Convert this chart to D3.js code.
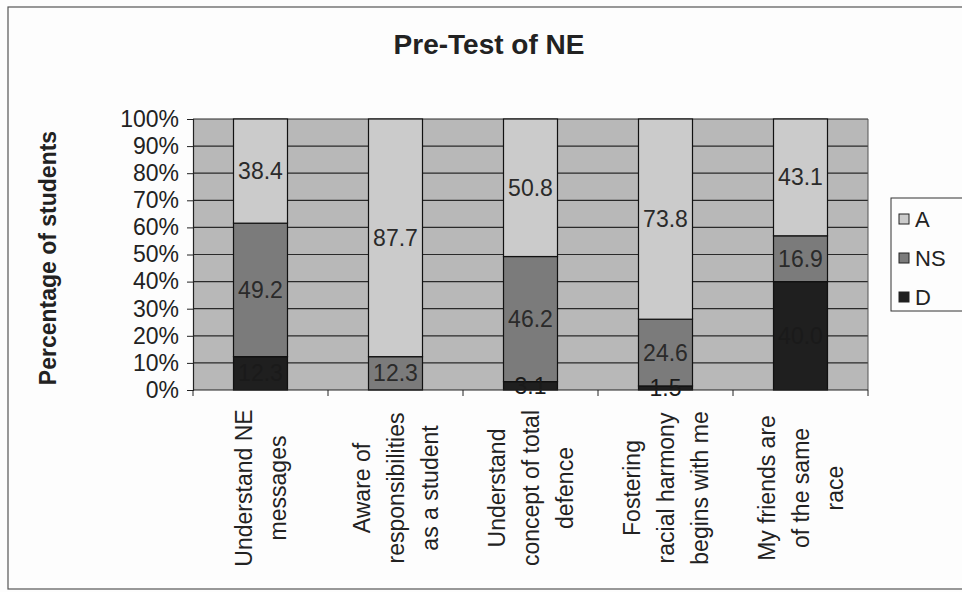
<!DOCTYPE html>
<html><head><meta charset="utf-8">
<script src="https://cdn.jsdelivr.net/npm/d3@7"></script>
<style>body{margin:0;background:#fdfdfd;} text{font-family:"Liberation Sans",Arial,sans-serif;}</style>
</head><body>
<svg id="c" width="962" height="592"></svg>
<script>
const categories = [
  ["Understand NE","messages"],
  ["Aware of","responsibilities","as a student"],
  ["Understand","concept of total","defence"],
  ["Fostering","racial harmony","begins with me"],
  ["My friends are","of the same","race"]
];
const seriesNames = ["D","NS","A"];
const valD  = [12.3, 0, 3.1, 1.5, 40.0];
const valNS = [49.2, 12.3, 46.2, 24.6, 16.9];
const valA  = [38.4, 87.7, 50.8, 73.8, 43.1];
const yTicks = [0,0.1,0.2,0.3,0.4,0.5,0.6,0.7,0.8,0.9,1];
const colors = {A:"#cbcbcb", NS:"#7b7b7b", D:"#1f1f1f"};

const svg = d3.select("#c");
// outer frame
svg.append("rect").attr("x",8).attr("y",7).attr("width",970).attr("height",582)
  .attr("fill","#fdfdfd").attr("stroke","#555").attr("stroke-width",1.2);

const m = {l:193, r:868, t:119, b:390};
const x = d3.scaleBand().domain(d3.range(categories.length)).range([m.l,m.r]).paddingInner(0.6).paddingOuter(0.3);
const y = d3.scaleLinear().domain([0,1]).range([m.b,m.t]);

// plot background
svg.append("rect").attr("x",m.l).attr("y",m.t).attr("width",m.r-m.l).attr("height",m.b-m.t).attr("fill","#b8b8b8");
// gridlines
svg.append("g").selectAll("line").data(yTicks.slice(1)).join("line")
  .attr("x1",m.l).attr("x2",m.r).attr("y1",d=>y(d)).attr("y2",d=>y(d)).attr("stroke","#2a2a2a").attr("stroke-width",1.2);
svg.append("line").attr("x1",m.r).attr("x2",m.r).attr("y1",m.t).attr("y2",m.b).attr("stroke","#555");

const rows = categories.map((c,i)=>({i, D:valD[i], NS:valNS[i], A:valA[i]}));
const stack = d3.stack().keys(seriesNames).offset(d3.stackOffsetExpand);
const layers = stack(rows);

const g = svg.append("g");
layers.forEach(layer=>{
  g.selectAll(null).data(layer).join("rect")
    .attr("x",d=>x(d.data.i)).attr("width",x.bandwidth())
    .attr("y",d=>y(d[1])).attr("height",d=>y(d[0])-y(d[1]))
    .attr("fill",colors[layer.key]).attr("stroke","#111").attr("stroke-width",1.2);
});
// labels
layers.forEach(layer=>{
  g.selectAll(null).data(layer.filter(d=>d.data[layer.key]>0)).join("text")
    .attr("x",d=>x(d.data.i)+x.bandwidth()/2)
    .attr("y",d=>y((d[0]+d[1])/2))
    .attr("text-anchor","middle").attr("dominant-baseline","central")
    .attr("font-size",23).attr("fill", layer.key==="D" ? "#1a1a1a" : "#2a2a2a")
    .text(d=>d.data[layer.key].toFixed(1));
});

// axes
const ya = svg.append("g").attr("transform",`translate(${m.l},0)`)
  .call(d3.axisLeft(y).tickValues(yTicks).tickFormat(d3.format(".0%")).tickSize(6).tickPadding(8));
ya.select(".domain").attr("stroke","#222").attr("stroke-width",1.2);
ya.selectAll("line").attr("stroke","#222");
ya.selectAll("text").attr("font-size",23).attr("fill","#222").style("font-family","Liberation Sans, Arial");

svg.append("line").attr("x1",m.l).attr("x2",m.r).attr("y1",m.b).attr("y2",m.b).attr("stroke","#222").attr("stroke-width",1.2);
const bounds = d3.range(categories.length+1).map(i=>m.l + i*(m.r-m.l)/categories.length);
svg.append("g").selectAll("line").data(bounds).join("line")
  .attr("x1",d=>d).attr("x2",d=>d).attr("y1",m.b).attr("y2",m.b+6).attr("stroke","#222");

// x labels
categories.forEach((lines,i)=>{
  const cx = x(i)+x.bandwidth()/2;
  const t = svg.append("g").attr("transform",`translate(${cx},488) rotate(-90)`);
  lines.forEach((ln,j)=>{
    t.append("text").attr("x",0).attr("y",(j-(lines.length-1)/2)*34)
      .attr("text-anchor","middle").attr("dominant-baseline","central")
      .attr("font-size",23).attr("fill","#222").text(ln);
  });
});

// title
svg.append("text").attr("x",489).attr("y",54).attr("text-anchor","middle")
  .attr("font-size",28).attr("font-weight","bold").attr("fill","#222").text("Pre-Test of NE");
// y title
svg.append("text").attr("transform",`translate(48,258) rotate(-90)`).attr("text-anchor","middle")
  .attr("dominant-baseline","central").attr("font-size",23).attr("font-weight","bold").attr("fill","#222")
  .text("Percentage of students");

// legend
const lg = svg.append("g");
lg.append("rect").attr("x",891).attr("y",198).attr("width",80).attr("height",113).attr("fill","#fdfdfd").attr("stroke","#333");
["A","NS","D"].forEach((k,j)=>{
  const cy = 219 + j*39;
  lg.append("rect").attr("x",899).attr("y",cy-5).attr("width",10).attr("height",10).attr("fill",colors[k]).attr("stroke","#222");
  lg.append("text").attr("x",915).attr("y",cy).attr("dominant-baseline","central").attr("font-size",22).attr("fill","#222").text(k);
});
</script>
</body></html>
